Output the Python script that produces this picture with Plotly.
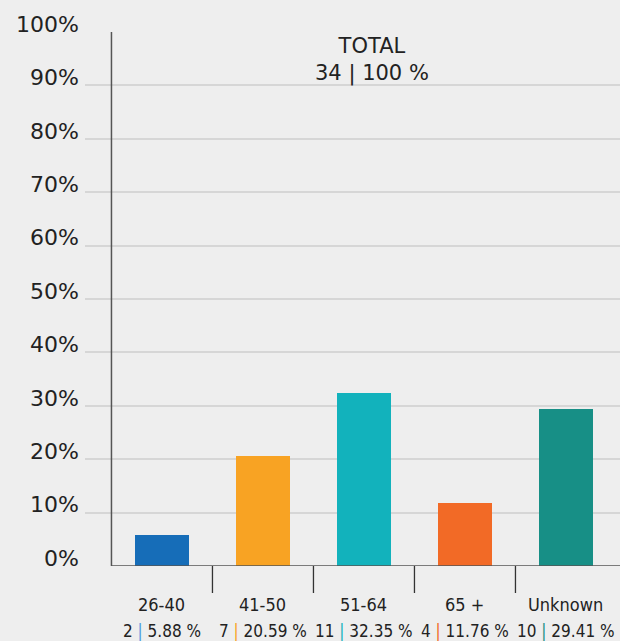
import plotly.graph_objects as go

# Age-band breakdown
categories = ["26-40", "41-50", "51-64", "65 +", "Unknown"]
counts = [2, 7, 11, 4, 10]
percents = [5.88, 20.59, 32.35, 11.76, 29.41]
total_count = 34
total_percent = 100
bar_colors = ["#166db8", "#f8a323", "#12b2bc", "#f26a26", "#178f86"]
sep_colors = ["#4f9be0", "#f8a323", "#12b2bc", "#f26a26", "#178f86"]
y_ticks = [0, 10, 20, 30, 40, 50, 60, 70, 80, 90, 100]

W, H = 620, 641
ML, MR, MT, MB = 85, 0, 32, 75
plot_h = H - MT - MB

xs = list(range(len(categories)))

fig = go.Figure()
fig.add_trace(go.Bar(
    x=xs, y=percents, width=0.54,
    marker=dict(color=bar_colors, line=dict(width=0)),
    hoverinfo="skip", showlegend=False,
))

axis_color = "#555555"
shapes = [
    # vertical axis line
    dict(type="line", xref="x", yref="y", x0=-0.5, x1=-0.5, y0=0, y1=100,
         line=dict(color=axis_color, width=1.5)),
    # baseline
    dict(type="line", xref="x", yref="y", x0=-0.5, x1=4.55, y0=0, y1=0,
         line=dict(color=axis_color, width=1.5)),
]
# category separators hanging below the baseline
for b in [0.5, 1.5, 2.5, 3.5]:
    shapes.append(dict(type="line", xref="x", yref="paper", x0=b, x1=b,
                       y0=0, y1=-27 / plot_h,
                       line=dict(color="#333333", width=1.3)))

label_font = "DejaVu Sans Condensed, Liberation Sans Narrow, DejaVu Sans"
annotations = [
    dict(x=2.08, y=100, xref="x", yref="y", yanchor="top", showarrow=False,
         text=f"TOTAL<br>{total_count} | {total_percent} %",
         font=dict(family="DejaVu Sans", size=21, color="#222222"),
         yshift=0),
]
for i, (cat, n, p) in enumerate(zip(categories, counts, percents)):
    annotations.append(dict(
        x=i, y=-38 / plot_h, xref="x", yref="paper", yanchor="middle",
        showarrow=False, text=cat,
        font=dict(family=label_font, size=18, color="#222222")))
    annotations.append(dict(
        x=i, y=-65 / plot_h, xref="x", yref="paper", yanchor="middle",
        showarrow=False,
        text=f"{n} <span style='color:{sep_colors[i]}'>|</span> {p:.2f} %",
        font=dict(family=label_font, size=17, color="#222222")))

fig.update_layout(
    width=W, height=H,
    margin=dict(l=ML, r=MR, t=MT, b=MB, pad=0),
    paper_bgcolor="#eeeeee", plot_bgcolor="#eeeeee",
    bargap=0,
    shapes=shapes, annotations=annotations,
    xaxis=dict(range=[-0.762, 4.535], showticklabels=False, showgrid=False,
               zeroline=False, showline=False, fixedrange=True),
    yaxis=dict(range=[0, 100], tickvals=y_ticks,
               ticktext=[f"{v}%" for v in y_ticks],
               showgrid=True, gridcolor="#d6d6d6", gridwidth=1.6,
               zeroline=False, showline=False, ticks="",
               ticklabelstandoff=5, ticklabelshift=-8,
               tickfont=dict(family="DejaVu Sans", size=22, color="#222222"),
               fixedrange=True),
)

fig.write_html("out.html")
